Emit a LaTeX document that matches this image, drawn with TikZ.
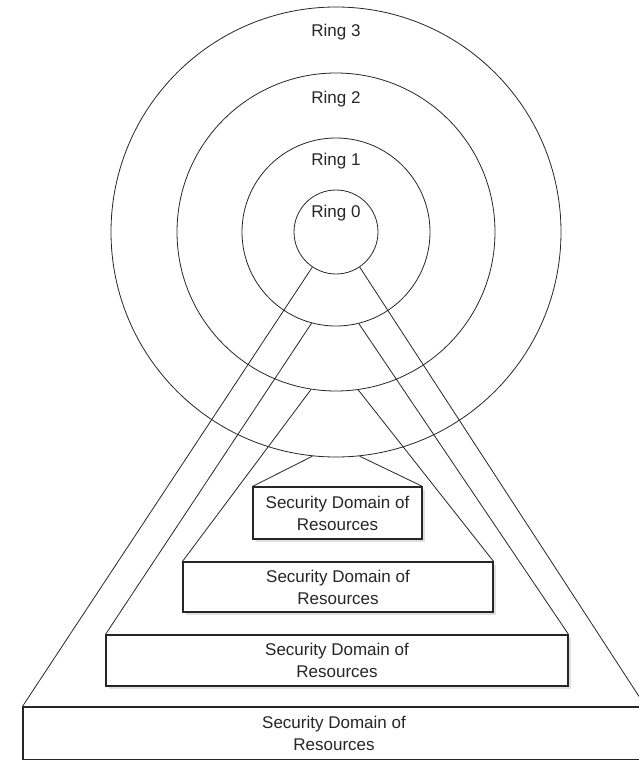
\documentclass[tikz,border=0pt]{standalone}
\usepackage{fontspec}
\setmainfont{Liberation Sans}
\usetikzlibrary{shadows}
\begin{document}
\begin{tikzpicture}[x=1pt,y=-1pt,
  ring/.style={draw=black!85, line width=0.8pt, circle, inner sep=0pt},
  lbl/.style={font=\fontsize{17}{22}\selectfont, text=black!85, inner sep=0pt},
  link/.style={draw=black!85, line width=0.8pt},
  dombox/.style={draw=black!85, line width=1.1pt, fill=white, align=center,
    font=\fontsize{17}{22}\selectfont, text=black!85, inner sep=0pt},
  shad/.style={drop shadow={shadow xshift=3pt, shadow yshift=-3pt, fill=black, opacity=0.12}}
]
\useasboundingbox (0,0) rectangle (638,760);
\fill[white] (0,0) rectangle (638,760);
% rings
\node[ring, minimum size=450pt] (r3) at (336,232) {};
\node[ring, minimum size=318pt] (r2) at (336,232) {};
\node[ring, minimum size=188pt] (r1) at (336,232) {};
\node[ring, minimum size=84pt]  (r0) at (336,232) {};
\node[lbl] (l3) at (336,32) {Ring 3};
\node[lbl] (l2) at (336,99) {Ring 2};
\node[lbl] (l1) at (336,161) {Ring 1};
\node[lbl] (l0) at (336,213) {Ring 0};
% boxes
\node[dombox, shad, minimum width=169pt, minimum height=52pt] (bA) at (337.5,513) {Security Domain of\\Resources};
\node[dombox, shad, minimum width=310pt, minimum height=50pt] (bB) at (338,587) {Security Domain of\\Resources};
\node[dombox, shad, minimum width=462pt, minimum height=51pt] (bC) at (337,660.5) {Security Domain of\\Resources};
\node[dombox, minimum width=622pt, minimum height=53pt] (bD) at (334,733.5) {Security Domain of\\Resources};
% connectors
\draw[link] (r0.236) -- (bD.north west);
\draw[link] (r0.304) -- (bD.north east);
\draw[link] (r1.255.5) -- (bC.north west);
\draw[link] (r1.284.5) -- (bC.north east);
\draw[link] (r2.261.5) -- (bB.north west);
\draw[link] (r2.278.5) -- (bB.north east);
\draw[link] (r3.264) -- (bA.north west);
\draw[link] (r3.276) -- (bA.north east);
\end{tikzpicture}
\end{document}
